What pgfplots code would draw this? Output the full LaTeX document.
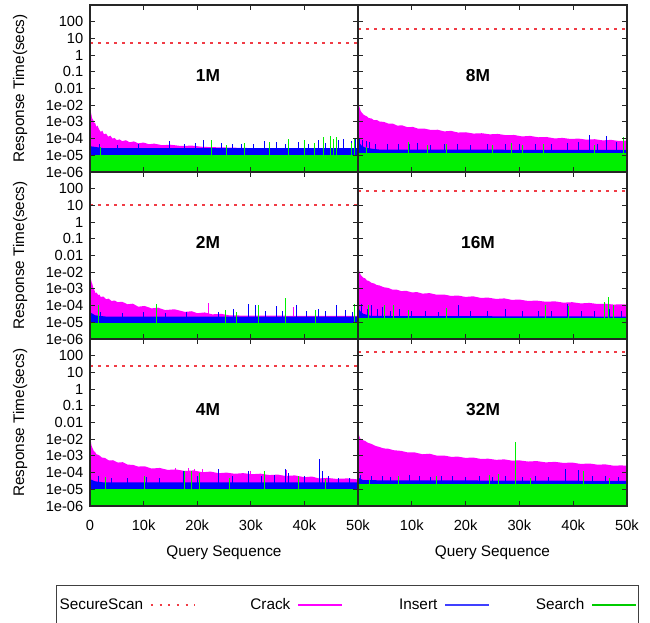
\documentclass[border=0pt]{standalone}
\usepackage{fontspec}
\setmainfont{Liberation Sans}
\usepackage{pgfplots}
\pgfplotsset{compat=1.18}
\definecolor{scan}{HTML}{F03C46}
\definecolor{crack}{HTML}{FF00FF}
\definecolor{ins}{HTML}{0000FF}
\definecolor{srch}{HTML}{00F000}
\pgfplotsset{
  mypanel/.style={
    scale only axis, width=201pt, height=125.25pt,
    xmin=0, xmax=50000, ymin=1e-6, ymax=1e4,
    ytick={1e-6,1e-5,1e-4,1e-3,1e-2,1e-1,1,10,100,1000},
    yminorticks=false,
    xtick={0,10000,20000,30000,40000,50000},
    scaled x ticks=false,
    xticklabels={,,,,,}, yticklabels={,,,,,,,,,},
    tick align=inside, major tick length=3.5pt,
    major tick style={black!85, line width=0.7pt},
    axis line style={black!85, line width=1pt},
    tick label style={font=\fontsize{11}{12}\selectfont},
    xticklabel style={yshift=-7pt},
    yticklabel style={xshift=-1.5pt},
    every axis label/.append style={font=\fontsize{11.5}{13}\selectfont},
    axis on top,
  },
  myleft/.style={
    yticklabels={1e-06,1e-05,1e-04,1e-03,1e-02,0.01,0.1,1,10,100},
    ylabel={Response Time(secs)},
    ylabel style={at={(axis description cs:-0.261,0.5)}, anchor=center}},
  mybotleft/.style={xticklabels={0,10k,20k,30k,40k,50k}, xlabel={Query Sequence},
    xlabel style={at={(axis description cs:0.5,-0.281)}, anchor=center}},
  mybotright/.style={xticklabels={,10k,20k,30k,40k,50k}, xlabel={Query Sequence},
    xlabel style={at={(axis description cs:0.5,-0.281)}, anchor=center}},
}
\tikzset{
  crackA/.style={fill=crack, draw=none},
  insA/.style={fill=ins, draw=none},
  srchA/.style={fill=srch, draw=none},
  crackS/.style={crack, line width=0.75pt},
  insS/.style={ins, line width=0.75pt},
  srchS/.style={srch, line width=0.75pt},
  scanL/.style={scan, line width=1.5pt, dash pattern=on 2.2pt off 3.8pt},
}
\newcommand{\plabel}[2]{\node[font=\bfseries\fontsize{13}{14}\selectfont] at (axis description cs:#1,0.58) {#2};}
\begin{document}
\begin{tikzpicture}
\useasboundingbox (0,0) rectangle (487.5pt,-467.25pt);

% ---------------- 1M ----------------
\begin{axis}[ymode=log, log origin=infty, mypanel, myleft, at={(67.5pt,-3.75pt)}, anchor=north west]
\addplot[crackA, forget plot] coordinates {(0,1e-6)(0,1e-2)(100,5e-3)(250,2.8e-3)(400,1.6e-3)(600,1.3e-3)(800,9e-4)(1000,8e-4)(1200,5e-4)(1400,6e-4)(1700,3.5e-4)(2000,2.5e-4)(2300,3e-4)(2600,1.8e-4)(3000,2e-4)(3400,1.3e-4)(3800,1.5e-4)(4200,1e-4)(4600,1.1e-4)(5000,8e-5)(5500,9e-5)(6000,7e-5)(6700,8e-5)(7400,6e-5)(8200,6.8e-5)(9000,5.2e-5)(10000,5.8e-5)(11000,4.6e-5)(12000,5e-5)(13500,4e-5)(15000,4.3e-5)(17000,3.6e-5)(19000,3.8e-5)(21000,3.2e-5)(24000,3e-5)(30000,2.7e-5)(50000,2.6e-5)(50000,1e-6)};
\addplot[insA, forget plot] coordinates {(0,1e-6)(0,3.5e-5)(2500,2.7e-5)(50000,2.7e-5)(50000,1e-6)};
\addplot[insS, ycomb, forget plot] coordinates {(1700,5e-5)(5200,4e-5)(9000,4.5e-5)(14900,7.4e-5)(17700,5e-5)(19600,5.5e-5)(21100,8e-5)(24600,5.5e-5)(26500,4.5e-5)(28300,5e-5)(30500,4.5e-5)(32600,7e-5)(34800,6e-5)(36500,5e-5)(38900,6.5e-5)(40800,5e-5)(42600,8e-5)(44000,5.5e-5)(46300,8e-5)(47300,1e-4)(48800,7e-5)(49600,9e-5)};
\addplot[srchA, forget plot] coordinates {(0,1e-6)(0,1.1e-5)(50000,1.1e-5)(50000,1e-6)};
\addplot[srchS, ycomb, forget plot] coordinates {(1900,3e-5)(22700,8e-5)(25500,4e-5)(28900,5.5e-5)(33500,6e-5)(37000,9e-5)(40100,8e-5)(41900,5.5e-5)(43500,1.26e-4)(44800,1.4e-4)(45400,9e-5)(46000,1.2e-4)(48800,5.5e-5)(49400,9e-5)};
\addplot[scanL, forget plot] coordinates {(0,50)(50000,50)};
\plabel{0.44}{1M}
\end{axis}

% ---------------- 8M ----------------
\begin{axis}[ymode=log, log origin=infty, mypanel, at={(268.5pt,-3.75pt)}, anchor=north west, width=201.75pt]
\addplot[crackA, forget plot] coordinates {(0,1e-6)(0,5.4e-2)(60,2e-2)(150,1.2e-2)(300,7e-3)(500,4.5e-3)(700,3.6e-3)(1000,2.8e-3)(1300,2.4e-3)(1600,2.2e-3)(2000,1.7e-3)(2500,1.6e-3)(3000,1.25e-3)(3500,1.3e-3)(4000,1.05e-3)(4800,1e-3)(5600,8e-4)(6500,7.8e-4)(7300,6e-4)(8200,6.2e-4)(9200,4.8e-4)(10200,5e-4)(11200,3.9e-4)(12300,4e-4)(13500,3.3e-4)(14800,3.4e-4)(16000,2.7e-4)(17300,2.9e-4)(18600,2.3e-4)(20000,2.4e-4)(21500,2e-4)(23000,2.1e-4)(24500,1.8e-4)(26000,1.9e-4)(27500,1.6e-4)(29000,1.65e-4)(30500,1.35e-4)(32000,1.45e-4)(33500,1.2e-4)(35000,1.25e-4)(36600,1.02e-4)(38000,1.1e-4)(39500,9.5e-5)(41000,1e-4)(42500,8.6e-5)(44000,9.2e-5)(45500,7.8e-5)(47000,8.4e-5)(48500,7.2e-5)(50000,7.6e-5)(50000,1e-6)};
\addplot[insA, forget plot] coordinates {(0,1e-6)(0,1.1e-4)(200,6e-5)(600,4e-5)(1200,3e-5)(2500,2.5e-5)(4000,2.2e-5)(50000,2.1e-5)(50000,1e-6)};
\addplot[insS, ycomb, forget plot] coordinates {(300,1.1e-4)(900,8e-5)(1500,7e-5)(2200,6e-5)(3200,5e-5)(5500,4.5e-5)(7600,5e-5)(9500,4.5e-5)(11000,5.5e-5)(13500,4e-5)(16000,4.5e-5)(18500,5e-5)(21000,4e-5)(24000,4.5e-5)(27500,5e-5)(30000,4.5e-5)(33000,5e-5)(36000,4.5e-5)(39000,5.5e-5)(41000,6e-5)(43100,1.6e-4)(44500,5e-5)(46200,1.4e-4)(48000,6e-5)};
\addplot[srchA, forget plot] coordinates {(0,1e-6)(0,1.45e-5)(50000,1.45e-5)(50000,1e-6)};
\addplot[srchS, ycomb, forget plot] coordinates {(1500,3e-5)(9300,6e-5)(13000,4e-5)(16500,5e-5)(25000,4e-5)(28500,5.5e-5)(30500,4e-5)(34500,4.5e-5)(44000,4e-5)(49300,1.3e-4)};
\addplot[scanL, forget plot] coordinates {(0,380)(50000,380)};
\plabel{0.446}{8M}
\end{axis}

% ---------------- 2M ----------------
\begin{axis}[ymode=log, log origin=infty, mypanel, myleft, at={(67.5pt,-129pt)}, anchor=north west]
\addplot[crackA, forget plot] coordinates {(0,1e-6)(0,8.5e-3)(100,5e-3)(300,2.5e-3)(450,1.9e-3)(600,1.2e-3)(800,9e-4)(1000,5.6e-4)(1250,6e-4)(1500,4.3e-4)(1750,4.6e-4)(2000,3.3e-4)(2500,3.5e-4)(3000,2.4e-4)(3500,2.6e-4)(4000,1.9e-4)(4600,2e-4)(5200,1.6e-4)(6000,1.7e-4)(7000,1.2e-4)(8000,1.3e-4)(9000,8.6e-5)(10200,9.5e-5)(11500,6.8e-5)(12700,7.5e-5)(14000,5.4e-5)(15800,6e-5)(17700,4.2e-5)(19000,4.6e-5)(20000,3.5e-5)(21400,3.9e-5)(22800,3e-5)(24500,3.2e-5)(26000,2.6e-5)(30000,2.5e-5)(50000,2.4e-5)(50000,1e-6)};
\addplot[crackS, ycomb, forget plot] coordinates {(22100,1.4e-4)(38000,8e-5)};
\addplot[insA, forget plot] coordinates {(0,1e-6)(0,4e-5)(1000,2.6e-5)(3000,2.2e-5)(50000,2.2e-5)(50000,1e-6)};
\addplot[insS, ycomb, forget plot] coordinates {(2000,4e-5)(6000,3.5e-5)(10000,4e-5)(14000,3.5e-5)(18000,4e-5)(24000,4e-5)(26800,6e-5)(29500,1.2e-4)(30800,1.1e-4)(32800,5e-5)(34800,9e-5)(36000,5e-5)(38600,1.1e-4)(40300,5e-5)(42600,6e-5)(44000,4.5e-5)(46000,1.1e-4)(47600,5.5e-5)(49000,4e-5)};
\addplot[srchA, forget plot] coordinates {(0,1e-6)(0,9.5e-6)(50000,9.5e-6)(50000,1e-6)};
\addplot[srchS, ycomb, forget plot] coordinates {(1550,1.1e-4)(12400,1.2e-4)(25200,5.5e-5)(27400,4e-5)(31400,1.1e-4)(36400,2.8e-4)(42000,5.5e-5)(49400,1.2e-4)};
\addplot[scanL, forget plot] coordinates {(0,100)(50000,100)};
\plabel{0.44}{2M}
\end{axis}

% ---------------- 16M ----------------
\begin{axis}[ymode=log, log origin=infty, mypanel, at={(268.5pt,-129pt)}, anchor=north west, width=201.75pt]
\addplot[crackA, forget plot] coordinates {(0,1e-6)(0,5.4e-2)(80,2.5e-2)(200,1.26e-2)(350,9e-3)(500,7e-3)(750,5.5e-3)(1000,4.6e-3)(1300,4.4e-3)(1650,3.2e-3)(2000,3e-3)(2500,2.3e-3)(3000,2.1e-3)(3500,1.7e-3)(4000,1.6e-3)(4800,1.25e-3)(5600,1.15e-3)(6400,9e-4)(7200,9e-4)(8000,7.4e-4)(9000,7.6e-4)(10000,6.2e-4)(11000,6.4e-4)(12000,5.2e-4)(13300,5.6e-4)(14600,4.5e-4)(16000,4.6e-4)(17300,3.8e-4)(18600,4e-4)(20000,3.3e-4)(21400,3.6e-4)(22800,2.9e-4)(24200,3e-4)(25700,2.5e-4)(27200,2.7e-4)(28600,2.2e-4)(30000,2.3e-4)(31600,1.9e-4)(33200,2e-4)(34900,1.7e-4)(36600,1.8e-4)(38200,1.5e-4)(39800,1.6e-4)(41400,1.35e-4)(43000,1.45e-4)(44500,1.25e-4)(46000,1.3e-4)(47500,1.15e-4)(49000,1.2e-4)(50000,1.15e-4)(50000,1e-6)};
\addplot[insA, forget plot] coordinates {(0,1e-6)(0,1.1e-4)(300,5e-5)(1000,3.2e-5)(2500,2.4e-5)(50000,2.2e-5)(50000,1e-6)};
\addplot[insS, ycomb, forget plot] coordinates {(700,1.2e-4)(1800,6e-5)(2600,1.1e-4)(3600,6e-5)(4500,8e-5)(6000,5e-5)(7800,6e-5)(10000,4.5e-5)(12500,5e-5)(15000,4e-5)(18600,1.1e-4)(21000,4.5e-5)(24000,5e-5)(27500,6e-5)(30500,4.5e-5)(33500,5e-5)(36000,5e-5)(39000,1.2e-4)(41500,5e-5)(44000,4.5e-5)(46800,6e-5)(49000,5e-5)};
\addplot[srchA, forget plot] coordinates {(0,1e-6)(0,1.7e-5)(50000,1.7e-5)(50000,1e-6)};
\addplot[srchS, ycomb, forget plot] coordinates {(1900,1.1e-4)(5000,1.1e-4)(6600,1.1e-4)(9400,5.5e-5)(16500,7e-5)(34800,1.1e-4)(39100,9e-5)(45900,1.7e-4)(46500,3.4e-4)(47500,1.1e-4)};
\addplot[scanL, forget plot] coordinates {(0,760)(50000,760)};
\plabel{0.446}{16M}
\end{axis}

% ---------------- 4M ----------------
\begin{axis}[ymode=log, log origin=infty, mypanel, myleft, mybotleft, at={(67.5pt,-254.25pt)}, anchor=north west,
  legend style={at={(axis description cs:-0.1269,-0.473)}, anchor=north west,
    legend columns=4, draw=black!75, line width=0.7pt,
    font=\fontsize{11.5}{13}\selectfont, inner xsep=1pt, inner ysep=8pt,
    /tikz/every odd column/.append style={column sep=4.25pt},
    /tikz/every even column/.append style={column sep=7pt},
    nodes={text width=63pt, align=right, inner xsep=1pt, inner ysep=1.5pt, text height=8.5pt, text depth=2pt}},
  legend plot pos=right,
  legend image code/.code={\draw[#1] (0pt,0pt) -- (33pt,0pt);}]
\addlegendimage{scan, line width=1.2pt, dash pattern=on 1.5pt off 5pt}
\addlegendentry{SecureScan}
\addlegendimage{crack, line width=1pt}
\addlegendentry{Crack}
\addlegendimage{ins!75, line width=1pt}
\addlegendentry{Insert}
\addlegendimage{srch!85!black, line width=1pt}
\addlegendentry{Search}
\addplot[crackA, forget plot] coordinates {(0,1e-6)(0,6.5e-2)(40,3e-2)(100,1.26e-2)(200,6e-3)(300,4e-3)(500,2.8e-3)(700,2e-3)(950,1.7e-3)(1200,1.26e-3)(1700,1.1e-3)(2200,8e-4)(2800,7.5e-4)(3500,5.4e-4)(4300,5.5e-4)(5200,4e-4)(6100,4.2e-4)(7000,3e-4)(8000,2.9e-4)(9000,2.3e-4)(10200,2.4e-4)(11500,1.75e-4)(13000,1.9e-4)(14500,1.45e-4)(16000,1.55e-4)(17700,1.25e-4)(19300,1.35e-4)(21000,1.05e-4)(22500,1.15e-4)(24000,9.2e-5)(25500,1e-4)(27000,8.5e-5)(28600,9.3e-5)(30200,8e-5)(31800,8.6e-5)(33500,7.1e-5)(35000,7.6e-5)(36500,6.3e-5)(38200,6.8e-5)(40000,5.3e-5)(41400,5.8e-5)(42700,4.5e-5)(44300,4.8e-5)(46000,4.2e-5)(48000,4.5e-5)(50000,3.9e-5)(50000,1e-6)};
\addplot[crackS, ycomb, forget plot] coordinates {(16000,2e-4)(18400,1.8e-4)(19500,1.6e-4)(21000,1.7e-4)(30000,1.3e-4)(36700,1.5e-4)};
\addplot[insA, forget plot] coordinates {(0,1e-6)(0,4e-5)(1000,3e-5)(2500,2.6e-5)(50000,2.6e-5)(50000,1e-6)};
\addplot[insS, ycomb, forget plot] coordinates {(1500,6e-5)(4000,4.5e-5)(7000,5e-5)(10500,5.5e-5)(13000,4.5e-5)(17400,1.3e-4)(20000,6e-5)(23900,1.65e-4)(26500,6e-5)(29500,1.3e-4)(32000,6e-5)(34500,7e-5)(36400,1.65e-4)(37100,1e-4)(40000,6e-5)(42800,6.5e-4)(43300,1.3e-4)(44500,6e-5)(46300,5e-5)(48500,4.5e-5)};
\addplot[srchA, forget plot] coordinates {(0,1e-6)(0,1.05e-5)(50000,1.05e-5)(50000,1e-6)};
\addplot[srchS, ycomb, forget plot] coordinates {(2800,5.2e-5)(10100,6e-5)(17700,1.3e-4)(19000,1.3e-4)(20500,1e-4)(26000,5e-5)(32600,1.3e-4)(38900,6e-5)(44000,4e-5)};
\addplot[scanL, forget plot] coordinates {(0,250)(50000,250)};
\plabel{0.44}{4M}
\end{axis}

% ---------------- 32M ----------------
\begin{axis}[ymode=log, log origin=infty, mypanel, mybotright, at={(268.5pt,-254.25pt)}, anchor=north west, width=201.75pt]
\addplot[crackA, forget plot] coordinates {(0,1e-6)(0,6.5e-2)(60,3.5e-2)(150,2e-2)(280,1.4e-2)(400,1.1e-2)(700,1e-2)(1000,8.5e-3)(1300,8e-3)(1800,6.2e-3)(2500,5.2e-3)(3200,4e-3)(4000,3.4e-3)(4800,2.8e-3)(5600,2.7e-3)(6600,2.2e-3)(8000,2e-3)(9300,1.6e-3)(10600,1.6e-3)(12000,1.25e-3)(13300,1.35e-3)(14600,1.05e-3)(16000,1.05e-3)(17300,8.8e-4)(18600,9e-4)(20000,7.6e-4)(21400,8e-4)(22800,6.6e-4)(24200,6.8e-4)(25700,5.8e-4)(27200,6.2e-4)(28600,5.2e-4)(30000,5.4e-4)(31600,4.6e-4)(33200,4.9e-4)(34900,4.1e-4)(36600,4.4e-4)(38200,3.8e-4)(39800,4e-4)(41400,3.3e-4)(43000,3.5e-4)(44500,3e-4)(46000,3.1e-4)(47500,2.6e-4)(49000,2.7e-4)(50000,2.55e-4)(50000,1e-6)};
\addplot[insA, forget plot] coordinates {(0,1e-6)(0,5e-5)(1000,3.5e-5)(50000,3.2e-5)(50000,1e-6)};
\addplot[insS, ycomb, forget plot] coordinates {(500,7e-5)(2500,6e-5)(4500,6.5e-5)(6000,5.5e-5)(7500,6e-5)(9500,7e-5)(11500,6e-5)(13500,5.5e-5)(15500,6.5e-5)(17500,6e-5)(20000,5.5e-5)(22500,6e-5)(25000,5.5e-5)(27500,6e-5)(30500,5.5e-5)(33000,6e-5)(35500,5.5e-5)(38500,1.65e-4)(41000,1.4e-4)(43500,6e-5)(46000,6.5e-5)(48500,5.5e-5)};
\addplot[srchA, forget plot] coordinates {(0,1e-6)(0,2.1e-5)(50000,2.1e-5)(50000,1e-6)};
\addplot[srchS, ycomb, forget plot] coordinates {(2200,3.5e-5)(7500,6.5e-5)(14600,6.5e-5)(24500,7.5e-5)(26100,8.5e-5)(29200,6.5e-3)(32000,5e-5)(41900,1.3e-4)(46800,4.5e-5)};
\addplot[scanL, forget plot] coordinates {(0,1660)(50000,1660)};
\plabel{0.465}{32M}
\end{axis}
\end{tikzpicture}
\end{document}
